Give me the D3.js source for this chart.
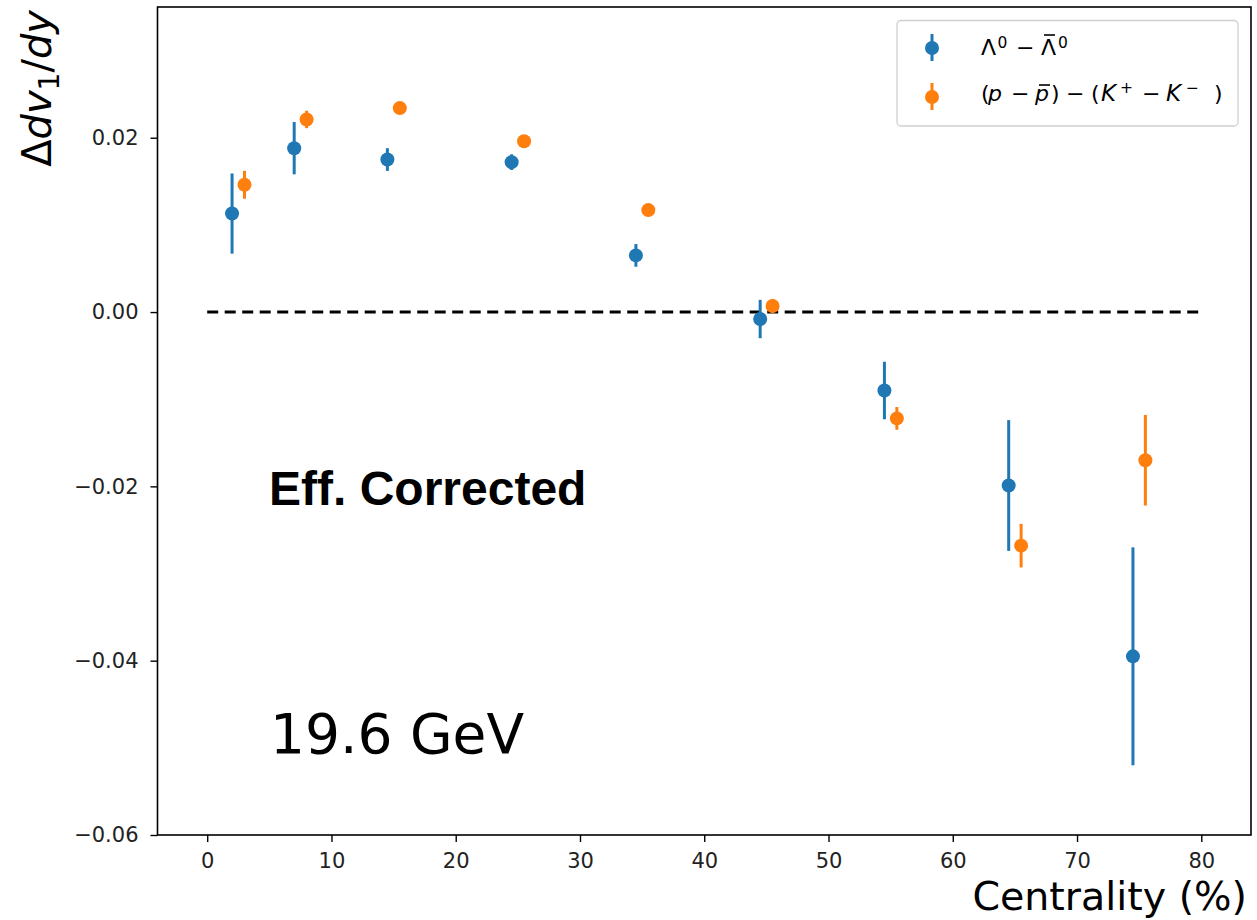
<!DOCTYPE html>
<html>
<head>
<meta charset="utf-8">
<script src="https://cdn.jsdelivr.net/npm/d3@7"></script>
<style>
  html, body { margin: 0; padding: 0; background: #fff; }
  svg { display: block; }
  text { font-family: "DejaVu Sans", sans-serif; }
</style>
</head>
<body>
<svg id="chart" width="1257" height="920"></svg>
<script>
// ---- data ----
const centralityLambda = [2, 7, 14.5, 24.5, 34.5, 44.5, 54.5, 64.5, 74.5];
const lambdaVals = [0.0113, 0.0188, 0.0175, 0.0172, 0.0065, -0.0008, -0.0090, -0.0199, -0.0395];
const lambdaErr  = [0.0046, 0.0030, 0.0013, 0.0009, 0.0013, 0.0022, 0.0033, 0.0075, 0.0125];

const centralityPK = [3, 8, 15.5, 25.5, 35.5, 45.5, 55.5, 65.5, 75.5];
const pkVals = [0.0146, 0.0221, 0.0234, 0.0196, 0.0117, 0.0007, -0.0122, -0.0268, -0.0170];
const pkErr  = [0.0016, 0.0010, 0.0004, 0.0004, 0.0004, 0.0008, 0.0013, 0.0025, 0.0052];

const xTicks = [0, 10, 20, 30, 40, 50, 60, 70, 80];
const yTicks = [-0.06, -0.04, -0.02, 0.00, 0.02];
const zeroLineX = [0, 80];

const colors = { lambda: "#1f77b4", pk: "#ff7f0e" };

// ---- layout ----
const svg = d3.select("#chart");
const mLeft = 157.5, mRight = 1251, mTop = 7, mBottom = 835;

const x = d3.scaleLinear().domain([-4, 84]).range([mLeft, mRight]);
const y = d3.scaleLinear().domain([-0.06, 0.035]).range([mBottom, mTop]);

const fmtY = v => (v < 0 ? "\u2212" : "") + Math.abs(v).toFixed(2);

// axes
const xAxis = d3.axisBottom(x).tickValues(xTicks).tickSize(7).tickPadding(11).tickFormat(d3.format("d"));
const yAxis = d3.axisLeft(y).tickValues(yTicks).tickSize(7).tickPadding(12).tickFormat(fmtY);

const gx = svg.append("g").attr("transform", `translate(0,${mBottom})`).call(xAxis);
const gy = svg.append("g").attr("transform", `translate(${mLeft},0)`).call(yAxis);
[gx, gy].forEach(g => {
  g.select(".domain").remove();
  g.selectAll(".tick line").attr("stroke", "#000").attr("stroke-width", 1.4);
  g.selectAll(".tick text").attr("fill", "#222").style("font-size", "21px")
    .style("font-family", "DejaVu Sans");
});

// zero dashed line
svg.append("line")
  .attr("x1", x(zeroLineX[0])).attr("x2", x(zeroLineX[1]))
  .attr("y1", y(0)).attr("y2", y(0))
  .attr("stroke", "#000").attr("stroke-width", 3)
  .attr("stroke-dasharray", "11,6.5");

// series
function drawSeries(xs, vals, errs, color) {
  const g = svg.append("g");
  const d = xs.map((c, i) => ({ c, v: vals[i], e: errs[i] }));
  g.selectAll("line.err").data(d).join("line")
    .attr("class", "err")
    .attr("x1", p => x(p.c)).attr("x2", p => x(p.c))
    .attr("y1", p => y(p.v + p.e)).attr("y2", p => y(p.v - p.e))
    .attr("stroke", color).attr("stroke-width", 3);
  g.selectAll("circle").data(d).join("circle")
    .attr("cx", p => x(p.c)).attr("cy", p => y(p.v))
    .attr("r", 7).attr("fill", color);
}
drawSeries(centralityLambda, lambdaVals, lambdaErr, colors.lambda);
drawSeries(centralityPK, pkVals, pkErr, colors.pk);

// frame
svg.append("rect")
  .attr("x", mLeft).attr("y", mTop)
  .attr("width", mRight - mLeft).attr("height", mBottom - mTop)
  .attr("fill", "none").attr("stroke", "#000").attr("stroke-width", 1.6);

// annotations
svg.append("text")
  .attr("x", 269).attr("y", 505)
  .style("font-family", "Liberation Sans, Arial, sans-serif")
  .style("font-weight", "bold").style("font-size", "48px")
  .attr("fill", "#000")
  .text("Eff. Corrected");

svg.append("text")
  .attr("x", 270).attr("y", 753)
  .style("font-size", "55px").attr("fill", "#000")
  .text("19.6 GeV");

// axis labels
svg.append("text")
  .attr("x", 1247).attr("y", 910)
  .attr("text-anchor", "end")
  .style("font-size", "39.5px").attr("fill", "#000")
  .text("Centrality (%)");

const yl = svg.append("text")
  .attr("transform", "translate(51,10) rotate(-90)")
  .attr("text-anchor", "end")
  .style("font-size", "40px").attr("fill", "#000");
yl.append("tspan").text("\u0394");
yl.append("tspan").style("font-style", "italic").text("dv");
yl.append("tspan").attr("dy", 8).style("font-size", "28px").text("1");
yl.append("tspan").attr("dy", -8).text("/");
yl.append("tspan").style("font-style", "italic").text("dy");

// legend
const lg = svg.append("g");
lg.append("rect")
  .attr("x", 897).attr("y", 20.5).attr("width", 341).attr("height", 105.5)
  .attr("rx", 4).attr("fill", "#fff").attr("fill-opacity", 0.8)
  .attr("stroke", "#d0d0d0").attr("stroke-width", 1.3);

const legendItems = [
  { color: colors.lambda, y: 48 },
  { color: colors.pk, y: 97 }
];
legendItems.forEach(it => {
  lg.append("line").attr("x1", 932).attr("x2", 932)
    .attr("y1", it.y - 14).attr("y2", it.y + 13)
    .attr("stroke", it.color).attr("stroke-width", 3);
  lg.append("circle").attr("cx", 932).attr("cy", it.y).attr("r", 7).attr("fill", it.color);
});

// legend labels laid out piece by piece (mathtext-like spacing)
function piece(g, str, px, py, opts = {}) {
  const t = g.append("text").attr("x", px).attr("y", py)
    .style("font-size", (opts.size || 22) + "px").attr("fill", "#000").text(str);
  if (opts.italic) t.style("font-style", "italic");
  return t;
}
const b1 = 55, b2 = 101, sup = 7;
piece(lg, "\u039B", 981, b1);
piece(lg, "0", 997.5, b1 - sup, { size: 15.5 });
piece(lg, "\u2212", 1016, b1);
piece(lg, "\u039B", 1041, b1);
lg.append("line").attr("x1", 1044).attr("x2", 1055).attr("y1", 35).attr("y2", 35)
  .attr("stroke", "#000").attr("stroke-width", 1.6);
piece(lg, "0", 1058, b1 - sup, { size: 15.5 });

piece(lg, "(", 981, b2);
piece(lg, "p", 988, b2, { italic: true });
piece(lg, "\u2212", 1011, b2);
piece(lg, "p", 1035, b2, { italic: true });
lg.append("line").attr("x1", 1039).attr("x2", 1050).attr("y1", 85).attr("y2", 85)
  .attr("stroke", "#000").attr("stroke-width", 1.6);
piece(lg, ")", 1051, b2);
piece(lg, "\u2212", 1066, b2);
piece(lg, "(", 1091, b2);
piece(lg, "K", 1101, b2, { italic: true, size: 23 });
piece(lg, "+", 1120, b2 - 8, { size: 15.5 });
piece(lg, "\u2212", 1142, b2);
piece(lg, "K", 1166, b2, { italic: true, size: 23 });
piece(lg, "\u2212", 1186, b2 - 8, { size: 15.5 });
piece(lg, ")", 1214, b2);
</script>
</body>
</html>
